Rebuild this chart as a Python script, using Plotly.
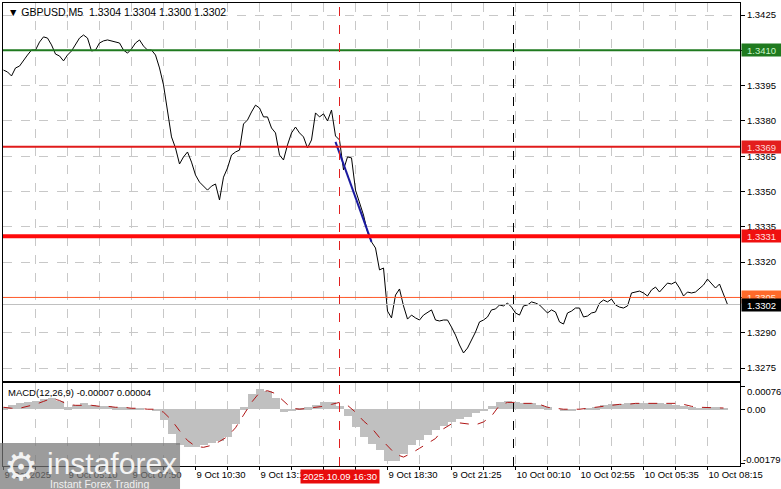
import plotly.graph_objects as go

# ---------------- data ----------------
# bar index (5-minute bars since first visible bar), sampled every 2 bars
price_idx = list(range(0, 364, 2))
close = [
    1.34016, 1.34008, 1.33991, 1.34025, 1.34033, 1.34059, 1.34080, 1.34101, 1.34101, 1.34135,
    1.34157, 1.34152, 1.34123, 1.34084, 1.34076, 1.34055, 1.34080, 1.34097, 1.34123, 1.34152,
    1.34165, 1.34152, 1.34097, 1.34101, 1.34131, 1.34140, 1.34144, 1.34140, 1.34135, 1.34131,
    1.34101, 1.34088, 1.34106, 1.34131, 1.34144, 1.34118, 1.34101, 1.34101, 1.34080, 1.34025,
    1.33953, 1.33846, 1.33732, 1.33685, 1.33617, 1.33647, 1.33668, 1.33625, 1.33570, 1.33540,
    1.33523, 1.33506, 1.33523, 1.33532, 1.33464, 1.33561, 1.33600, 1.33655, 1.33668, 1.33676,
    1.33787, 1.33804, 1.33838, 1.33867, 1.33855, 1.33817, 1.33817, 1.33770, 1.33749, 1.33655,
    1.33634, 1.33698, 1.33749, 1.33774, 1.33749, 1.33732, 1.33685, 1.33719, 1.33834, 1.33817,
    1.33830, 1.33800, 1.33846, 1.33736, 1.33719, 1.33592, 1.33647, 1.33643, 1.33506, 1.33451,
    1.33400, 1.33328, 1.33286, 1.33260, 1.33167, 1.33175, 1.32992, 1.32963, 1.33060, 1.33086,
    1.33014, 1.32958, 1.32975, 1.32963, 1.32954, 1.32975, 1.32988, 1.32997, 1.32954, 1.32950,
    1.32954, 1.32954, 1.32924, 1.32890, 1.32848, 1.32814, 1.32835, 1.32869, 1.32903, 1.32946,
    1.32954, 1.32967, 1.32997, 1.33001, 1.33018, 1.33014, 1.33026, 1.33009, 1.32984, 1.32975,
    1.33014, 1.33018, 1.33031, 1.33026, 1.33018, 1.33001, 1.32984, 1.32997, 1.32988, 1.32946,
    1.32937, 1.32984, 1.32992, 1.33005, 1.33005, 1.32967, 1.32971, 1.32984, 1.32988, 1.33026,
    1.33039, 1.33031, 1.33043, 1.33018, 1.33009, 1.33005, 1.33014, 1.33069, 1.33073, 1.33077,
    1.33069, 1.33056, 1.33082, 1.33094, 1.33073, 1.33090, 1.33111, 1.33107, 1.33116, 1.33090,
    1.33056, 1.33073, 1.33069, 1.33073, 1.33086, 1.33103, 1.33128, 1.33107, 1.33090, 1.33107,
    1.33065, 1.33020,
]

# MACD(12,26,9) sampled every 4 bars
macd_idx = list(range(0, 364, 4))
macd_main = [
    0.000064, 0.000128, 0.000192, 0.000224, 0.000256, 0.000352, 0.000384, 0.000256, 0.000064, 0.000128,
    0.000192, 0.000128, 0.000096, 0.000096, 0.000064, 0.000064, 0.000032, 0.000032, 0.0, -0.000064,
    -0.000352, -0.0008, -0.001184, -0.001248, -0.001248, -0.001184, -0.00112, -0.001024, -0.000896, -0.00048,
    0.000064, 0.000512, 0.000672, 0.000608, 0.000384, -0.000096, -0.000064, 0.000032, 0.000064, 0.000128,
    0.000224, 0.000224, 0.000096, -0.000224, -0.000576, -0.000896, -0.001152, -0.001344, -0.001696, -0.001696,
    -0.001472, -0.001184, -0.000992, -0.000832, -0.000672, -0.000544, -0.000416, -0.00032, -0.000256, -0.000128,
    -0.000032, 0.000096, 0.000224, 0.000256, 0.000224, 0.000192, 0.000192, 0.000128, 0.000064, 0.0,
    -0.000064, -0.000064, 0.0, 0.000032, 0.000064, 0.000128, 0.00016, 0.00016, 0.000192, 0.000192,
    0.000192, 0.000192, 0.000192, 0.00016, 0.000128, 0.000096, 0.000064, 0.000032, 0.000064, 0.000064,
    0.00003,
]
macd_signal = [
    0.000064, 0.000032, 0.000032, 0.000096, 0.00016, 0.000256, 0.000352, 0.000288, 0.00016, 0.000128,
    0.000128, 0.000128, 0.000096, 0.000096, 0.000064, 0.000064, 0.000032, 0.000032, 0.0, 0.0,
    -0.000096, -0.000352, -0.000704, -0.001024, -0.001216, -0.001248, -0.001184, -0.001056, -0.000896, -0.000608,
    -0.000192, 0.000224, 0.000544, 0.000608, 0.000512, 0.000288, 0.000032, 0.0, 0.000032, 0.000064,
    0.000096, 0.00016, 0.000224, 0.000128, -0.000096, -0.000384, -0.000608, -0.000928, -0.001216, -0.001472,
    -0.001568, -0.00144, -0.00128, -0.00112, -0.00096, -0.00064, -0.00048, -0.000448, -0.00048, -0.000512,
    -0.000416, -0.000224, 0.000128, 0.000224, 0.000224, 0.000192, 0.000192, 0.00016, 0.000064, 0.000032,
    0.0, 0.0, 0.0, 0.000032, 0.000064, 0.000096, 0.000128, 0.00016, 0.00016, 0.000192,
    0.000192, 0.000192, 0.000192, 0.000192, 0.000192, 0.00016, 0.000096, 0.000064, 0.000064, 0.000064,
    0.00004,
]
macd_ticks = [0.00076, 0.0, -0.00179]
macd_tick_txt = ["0.00076", "0.00", "-0.00179"]
macd_tick_shift = [-5, 0, 4]
macd_tick_xshift = [5, 5, 1]

# x-axis time labels (every 32 bars), grid every 16 bars
grid_idx = list(range(0, 353, 16))
label_idx = [0, 32, 64, 96, 128, 160, 192, 224, 256, 288, 320, 352]
label_txt = ["9 Oct 2025", "9 Oct 05:10", "9 Oct 07:50", "9 Oct 10:30", "9 Oct 13:10", "9 Oct 15:50",
             "9 Oct 18:30", "9 Oct 21:25", "10 Oct 00:10", "10 Oct 02:55", "10 Oct 05:35", "10 Oct 08:15"]

# horizontal levels
level_vals = [1.3410, 1.3369, 1.3331, 1.3305]
level_txt = ["1.3410", "1.3369", "1.3331", "1.3305"]
level_line = ["#1f7a1f", "#e01b1b", "#ff0a0a", "#ff5a2a"]
level_width = [2, 2, 4, 1]
level_box = ["#1f7a1f", "#e31e1e", "#f01010", "#ff6a2a"]
level_font = ["#c8f5c8", "#ffd6d6", "#ffe0e0", "#ffe6d6"]
bid_price = 1.3302

# cursor bar & day separator (bar index)
cursor_idx = 168
cursor_txt = "2025.10.09 16:30"
day_sep_idx = 255

# trend line
trend_idx = [166, 184]
trend_px = [1.33711, 1.33286]

# ---------------- figure ----------------
FONT = "Liberation Sans"
FS = 9.5
fig = go.Figure()

fig.add_trace(go.Bar(x=macd_idx, y=macd_main, width=4, marker=dict(color="#c0c0c0", line=dict(width=0)),
                     xaxis="x2", yaxis="y2", hoverinfo="skip"))
fig.add_trace(go.Scatter(x=macd_idx, y=macd_signal, mode="lines",
                         line=dict(color="#b01515", width=1, dash="dash"), xaxis="x2", yaxis="y2"))

fig.add_shape(type="line", xref="paper", x0=0, x1=1, yref="y", y0=bid_price, y1=bid_price,
              line=dict(color="#c0c0c0", width=1), layer="above")
for v, c, w in zip(level_vals, level_line, level_width):
    fig.add_shape(type="line", xref="paper", x0=0, x1=1, yref="y", y0=v, y1=v,
                  line=dict(color=c, width=w), layer="above")

fig.add_trace(go.Scatter(x=price_idx, y=close, mode="lines", line=dict(color="black", width=1),
                         xaxis="x", yaxis="y"))
fig.add_trace(go.Scatter(x=trend_idx, y=trend_px, mode="lines", line=dict(color="#1a1aa0", width=2),
                         xaxis="x", yaxis="y"))

# vertical lines
fig.add_shape(type="line", xref="x", x0=cursor_idx, x1=cursor_idx, yref="paper", y0=0, y1=1,
              line=dict(color="#e02020", width=1, dash="dash"))
fig.add_shape(type="line", xref="x", x0=day_sep_idx, x1=day_sep_idx, yref="paper", y0=0, y1=1,
              line=dict(color="black", width=1, dash="dash"))

tick_text = [label_txt[label_idx.index(i)] if i in label_idx else "" for i in grid_idx]

ax_common = dict(range=[-0.25, 368.25], showline=True, mirror=True, linecolor="black", linewidth=1,
                 showgrid=True, gridcolor="#c8c8c8", griddash="dash", gridwidth=1, zeroline=False,
                 tickvals=grid_idx, automargin=False)

fig.update_layout(
    width=781, height=489,
    margin=dict(l=3, r=41, t=3, b=23, autoexpand=False),
    plot_bgcolor="white", paper_bgcolor="white",
    showlegend=False, bargap=0,
    font=dict(family=FONT, size=FS, color="black"),
    xaxis=dict(domain=[0, 1], anchor="y", showticklabels=False, ticks="", **ax_common),
    xaxis2=dict(domain=[0, 1], anchor="y2", matches="x", ticktext=tick_text, ticks="outside", ticklen=3,
                tickcolor="black", ticklabelposition="outside right", tickangle=0,
                tickfont=dict(size=FS), **ax_common),
    yaxis=dict(domain=[0.1836, 1], anchor="x", side="right", range=[1.32695, 1.34301],
               tick0=1.3275, dtick=0.0015, tickformat=".4f", ticks="outside", ticklen=4, tickcolor="black",
               showline=True, mirror=True, linecolor="black", linewidth=1, automargin=False,
               showgrid=True, gridcolor="#c8c8c8", griddash="dash", zeroline=False),
    yaxis2=dict(domain=[0, 0.1793], anchor="x2", side="right", range=[-0.00186, 0.00086],
                tickvals=macd_ticks, ticktext=["", "", ""],
                ticks="outside", ticklen=4, tickcolor="black", automargin=False,
                showline=True, mirror=True, linecolor="black", linewidth=1,
                showgrid=False, zeroline=False),
)

for v, t, s, xs in zip(macd_ticks, macd_tick_txt, macd_tick_shift, macd_tick_xshift):
    fig.add_annotation(xref="paper", x=1, xanchor="left", xshift=xs, yref="y2", y=v, yshift=s, text=t,
                       showarrow=False, font=dict(size=FS, color="black"))

# level labels on price axis
for v, t, b, f in zip(level_vals, level_txt, level_box, level_font):
    fig.add_annotation(xref="paper", x=1, xanchor="left", xshift=1, yref="y", y=v, text=t,
                       showarrow=False, bgcolor=b, font=dict(color=f, size=FS), width=39, height=12,
                       borderpad=0)
fig.add_annotation(xref="paper", x=1, xanchor="left", xshift=1, yref="y", y=bid_price, text="1.3302",
                   showarrow=False, bgcolor="black", font=dict(color="white", size=FS), width=39, height=12,
                   borderpad=0)

# headers
fig.add_annotation(xref="paper", yref="paper", x=0, y=1, xanchor="left", yanchor="top", xshift=3, yshift=-1,
                   text="▼ GBPUSD,M5  1.3304 1.3304 1.3300 1.3302", showarrow=False,
                   font=dict(size=10.5, color="black"))
fig.add_annotation(xref="paper", yref="paper", x=0, y=0.1793, xanchor="left", yanchor="top", xshift=3,
                   yshift=-2, text="MACD(12,26,9) -0.00007 0.00004", showarrow=False,
                   font=dict(size=FS, color="black"))

# cursor time label
fig.add_annotation(xref="x", x=cursor_idx, yref="paper", y=0, yanchor="top", yshift=-3,
                   text=cursor_txt, showarrow=False, bgcolor="#e80c0c",
                   font=dict(color="white", size=FS), width=78, height=13, borderpad=0)

# watermark logo
fig.add_shape(type="rect", xref="paper", yref="paper", x0=-0.005, x1=0.2402, y0=-0.0497, y1=0.0497,
              fillcolor="#767676", opacity=0.72, line=dict(width=0), layer="above")
fig.add_annotation(xref="paper", yref="paper", x=-0.0015, y=0.0, xanchor="left", yanchor="middle",
                   yshift=-1, text="⚙", showarrow=False, font=dict(size=38, color="#f2f2f2",
                                                                  family="DejaVu Sans"))
fig.add_annotation(xref="paper", yref="paper", x=0.057, y=0.045, xanchor="left", yanchor="top",
                   text="instaforex", showarrow=False, font=dict(size=30, color="#f4f4f4", family=FONT))
fig.add_annotation(xref="paper", yref="paper", x=0.061, y=-0.022, xanchor="left", yanchor="top",
                   text="Instant Forex Trading", showarrow=False,
                   font=dict(size=10.5, color="#f0f0f0", family=FONT))

fig.write_html("out.html", config={"displayModeBar": False},
               post_script="document.body.style.margin='0';")
